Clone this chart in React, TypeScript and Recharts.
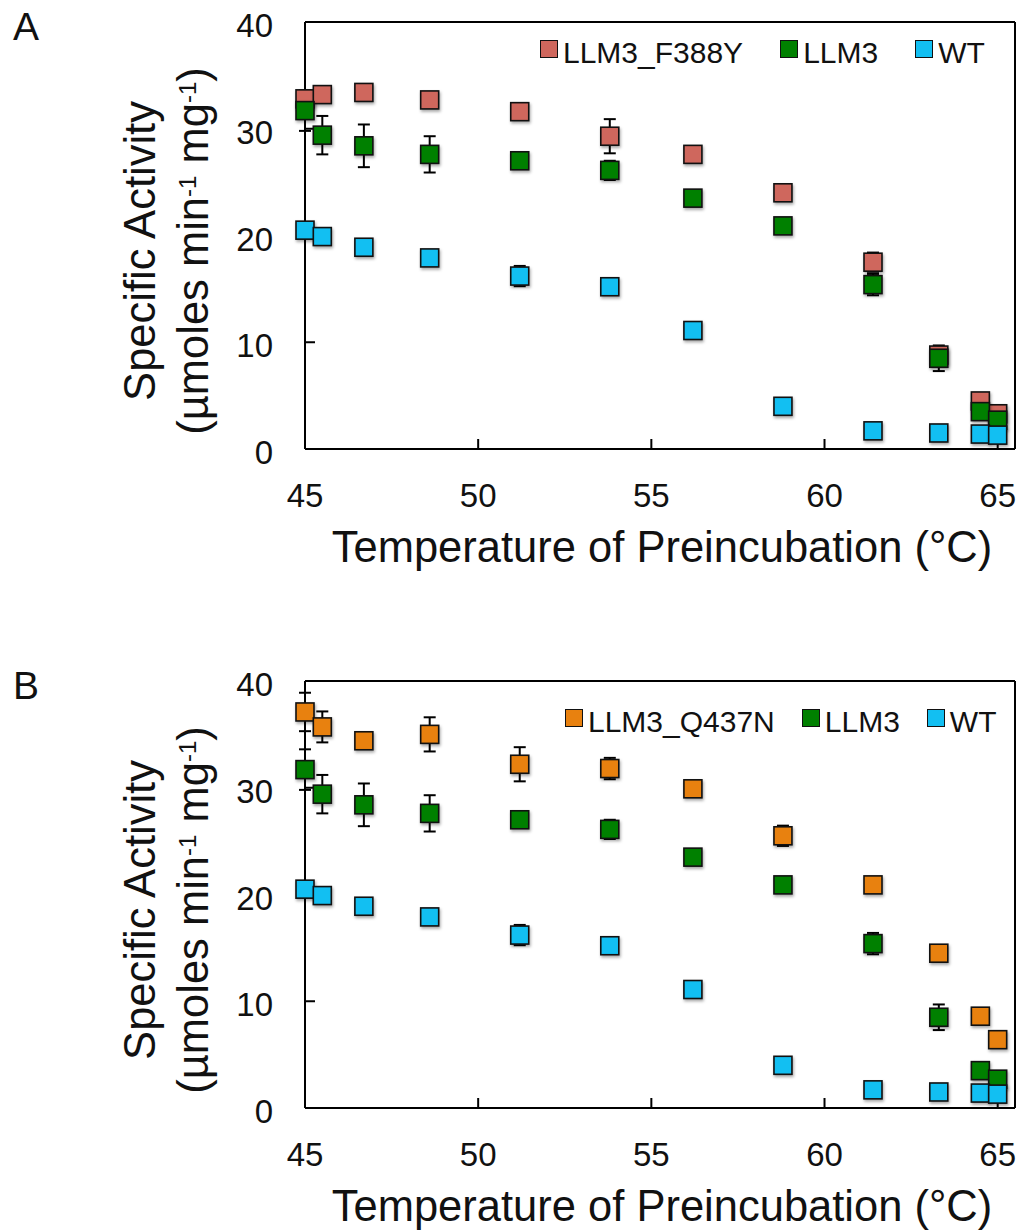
import React from 'react';
import { ScatterChart, Scatter, XAxis, YAxis, ErrorBar, ReferenceLine } from 'recharts';

// preincubation temperatures (°C), shared by every series
const temps = [45.0, 45.5, 46.7, 48.6, 51.2, 53.8, 56.2, 58.8, 61.4, 63.3, 64.5, 65.0];

// specific activity (µmoles min-1 mg-1) and error
const f388y = [32.8, 33.2, 33.4, 32.7, 31.6, 29.3, 27.6, 24.0, 17.5, 8.8, 4.5, 3.3];
const f388yErr = [0.3, 0.3, 0.3, 0.3, 0.3, 1.6, 0.3, 0.3, 0.9, 0.3, 0.3, 0.3];
const q437n = [37.1, 35.7, 34.4, 35.0, 32.2, 31.8, 29.9, 25.5, 20.9, 14.5, 8.6, 6.4];
const q437nErr = [1.8, 1.45, 0.3, 1.6, 1.6, 1.0, 0.3, 0.95, 0.3, 0.3, 0.3, 0.3];
const llm3 = [31.7, 29.4, 28.4, 27.6, 27.0, 26.1, 23.5, 20.9, 15.4, 8.5, 3.5, 2.7];
const llm3Err = [1.9, 1.8, 2.0, 1.7, 0.3, 0.9, 0.6, 0.3, 1.0, 1.2, 0.3, 0.3];
const wt = [20.5, 19.9, 18.9, 17.9, 16.2, 15.2, 11.1, 4.0, 1.7, 1.5, 1.4, 1.3];
const wtErr = [0.3, 0.3, 0.3, 0.3, 0.95, 0.3, 0.3, 0.3, 0.3, 0.3, 0.3, 0.3];

const xTicks = [45, 50, 55, 60, 65];
const yTicks = [0, 10, 20, 30, 40];
const xMax = 65.5;
const yMax = 40;

const RED = '#CF675D';
const ORANGE = '#E8810F';
const GREEN = '#008000';
const BLUE = '#12BFF2';

const FONT = '"Liberation Sans", Arial, Helvetica, sans-serif';

const toPoints = (vals: number[], errs: number[]) =>
  temps.map((t, i) => ({ x: t, y: vals[i], err: errs[i] }));

const Square = (props: any) => {
  const { cx, cy, fill } = props;
  if (cx == null || cy == null) return <g />;
  return (
    <rect
      x={cx - 9}
      y={cy - 9}
      width={18}
      height={18}
      fill={fill}
      stroke="#111"
      strokeWidth={1.6}
      style={{ filter: 'drop-shadow(1px 2px 1.5px rgba(0,0,0,0.35))' }}
    />
  );
};

const XTick = (props: any) => (
  <text x={props.x} y={props.y + 58} textAnchor="middle" fontSize={33} fontFamily={FONT} fill="#111">
    {props.payload.value}
  </text>
);

const YTick = (props: any) => (
  <text x={props.x} y={props.y + 15} textAnchor="end" fontSize={33} fontFamily={FONT} fill="#111">
    {props.payload.value}
  </text>
);

interface Series {
  name: string;
  color: string;
  vals: number[];
  errs: number[];
}

function Panel({ top, series }: { top: number; series: Series[] }) {
  return (
    <div style={{ position: 'absolute', left: 0, top }}>
      <ScatterChart width={1021} height={520} margin={{ top: 22, right: 6, bottom: 0, left: 0 }}>
        <XAxis
          type="number"
          dataKey="x"
          domain={[45, xMax]}
          ticks={xTicks}
          height={71}
          tickSize={-10}
          tickMargin={10}
          tick={XTick}
          axisLine={{ stroke: '#000', strokeWidth: 2 }}
          tickLine={{ stroke: '#000', strokeWidth: 2 }}
        />
        <YAxis
          type="number"
          dataKey="y"
          domain={[0, yMax]}
          ticks={yTicks}
          width={305}
          tickSize={-10}
          tickMargin={42}
          tick={YTick}
          axisLine={{ stroke: '#000', strokeWidth: 2 }}
          tickLine={{ stroke: '#000', strokeWidth: 2 }}
        />
        {/* top and right sides of the plot frame */}
        <ReferenceLine y={yMax} stroke="#000" strokeWidth={2} ifOverflow="visible" />
        <ReferenceLine x={xMax} stroke="#000" strokeWidth={2} ifOverflow="visible" />
        {/* error bars first so every marker sits on top */}
        {series.map((s) => (
          <Scatter
            key={s.name + '-err'}
            data={toPoints(s.vals, s.errs)}
            fill={s.color}
            shape={() => <g />}
            legendType="none"
            isAnimationActive={false}
          >
            <ErrorBar dataKey="err" direction="y" width={6} stroke="#000" strokeWidth={2} isAnimationActive={false} />
          </Scatter>
        ))}
        {series.map((s) => (
          <Scatter
            key={s.name}
            name={s.name}
            data={toPoints(s.vals, s.errs)}
            fill={s.color}
            shape={Square}
            isAnimationActive={false}
          />
        ))}
      </ScatterChart>
    </div>
  );
}

function Legend({ left, top, gap, series }: { left: number; top: number; gap: number; series: Series[] }) {
  return (
    <div
      style={{
        position: 'absolute',
        left,
        top,
        display: 'flex',
        gap,
        fontFamily: FONT,
        fontSize: 30,
        lineHeight: '30px',
        color: '#111',
        whiteSpace: 'nowrap',
      }}
    >
      {series.map((s) => (
        <div key={s.name} style={{ display: 'flex', alignItems: 'flex-start' }}>
          <span
            style={{
              display: 'inline-block',
              width: 18,
              height: 18,
              boxSizing: 'border-box',
              border: '1.5px solid #111',
              background: s.color,
              marginTop: 2.2,
              marginRight: 5,
            }}
          />
          <span>{s.name}</span>
        </div>
      ))}
    </div>
  );
}

function Titles({ dy, letter }: { dy: number; letter: string }) {
  return (
    <g transform={`translate(0, ${dy})`} fontFamily={FONT} fill="#111">
      <text x={13} y={40} fontSize={39}>{letter}</text>
      <text transform="translate(155, 251) rotate(-90)" textAnchor="middle" fontSize={43.5}>
        Specific Activity
      </text>
      <text transform="translate(208, 251) rotate(-90)" textAnchor="middle" fontSize={43.5}>
        (µmoles min
        <tspan dy={-12} fontSize={24}>-1</tspan>
        <tspan dy={12}> mg</tspan>
        <tspan dy={-12} fontSize={24}>-1</tspan>
        <tspan dy={12}>)</tspan>
      </text>
      <text x={662} y={562} textAnchor="middle" fontSize={43.5}>
        Temperature of Preincubation (°C)
      </text>
    </g>
  );
}

export default function App() {
  const seriesA: Series[] = [
    { name: 'LLM3_F388Y', color: RED, vals: f388y, errs: f388yErr },
    { name: 'LLM3', color: GREEN, vals: llm3, errs: llm3Err },
    { name: 'WT', color: BLUE, vals: wt, errs: wtErr },
  ];
  const seriesB: Series[] = [
    { name: 'LLM3_Q437N', color: ORANGE, vals: q437n, errs: q437nErr },
    { name: 'LLM3', color: GREEN, vals: llm3, errs: llm3Err },
    { name: 'WT', color: BLUE, vals: wt, errs: wtErr },
  ];

  return (
    <div style={{ position: 'absolute', left: 0, top: 0, width: 1021, height: 1232, background: '#fff' }}>
      <Panel top={0} series={seriesA} />
      <Panel top={659} series={seriesB} />
      <Legend left={540} top={37.9} gap={37} series={seriesA} />
      <Legend left={565} top={707.3} gap={27} series={seriesB} />
      <svg
        width={1021}
        height={1232}
        style={{ position: 'absolute', left: 0, top: 0, pointerEvents: 'none' }}
      >
        <Titles dy={0} letter="A" />
        <Titles dy={659} letter="B" />
      </svg>
    </div>
  );
}
